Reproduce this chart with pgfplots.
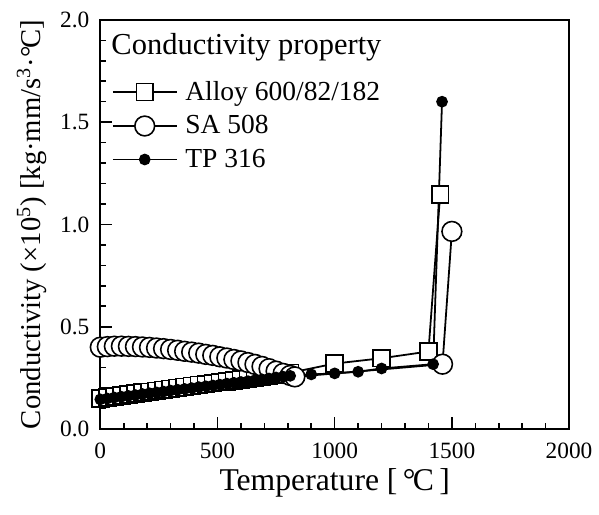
\documentclass[border=0pt]{standalone}
\usepackage{fontspec}
\setmainfont{Liberation Serif}
\usepackage{pgfplots}
\pgfplotsset{compat=1.18}
\newcommand{\degC}{\textdegree\kern-0.08em C}
\begin{document}
\begin{tikzpicture}
\begin{axis}[
  width=236bp, height=206bp, scale only axis,
  xmin=0, xmax=2000, ymin=0, ymax=2,
  xtick={0,500,1000,1500,2000},
  ytick={0,0.5,1,1.5,2},
  xticklabels={0,500,1000,1500,2000},
  yticklabels={0.0,0.5,1.0,1.5,2.0},
  minor x tick num=4, minor y tick num=4,
  tick align=inside, xtick pos=bottom, ytick pos=left,
  major tick length=6bp, minor tick length=3bp,
  every tick/.style={black, line width=0.8pt},
  axis line style={line width=1pt},
  tick label style={font=\fontsize{11.8}{13}\selectfont},
  xticklabel style={yshift=-3.5bp},
  yticklabel style={xshift=-2bp},
  xlabel={Temperature [\,\degC\,]},
  ylabel={Conductivity (\texttimes10\textsuperscript{5}) [kg\textperiodcentered mm/s\textsuperscript{3}\textperiodcentered\degC]},
  xlabel style={font=\fontsize{16}{18}\selectfont, yshift=2bp},
  ylabel style={font=\fontsize{14.5}{16}\selectfont},
  legend style={draw=none, fill=none, at={(axis description cs:0.02,0.866)}, anchor=north west,
    font=\fontsize{13.9}{15}\selectfont, row sep=2.2bp, inner sep=1bp},
  legend cell align=left,
  legend image code/.code={\draw[mark repeat=2,mark phase=2,#1] plot coordinates {(0bp,0bp) (16bp,0bp) (32bp,0bp)}; \path (34bp,0bp);},
]
\addplot[black, line width=0.9pt, mark=square*, mark size=4.25pt, mark options={fill=white, line width=0.8pt}] coordinates {
(0,0.150) (30,0.155) (60,0.159) (90,0.164) (120,0.168) (150,0.173) (180,0.178) (210,0.182)
(240,0.187) (270,0.192) (300,0.196) (330,0.201) (360,0.205) (390,0.210) (420,0.215) (450,0.219)
(480,0.224) (510,0.229) (540,0.233) (570,0.238) (600,0.242) (630,0.247) (660,0.252) (690,0.256)
(720,0.261) (750,0.265) (780,0.270) (810,0.275)
(1000,0.320) (1200,0.346) (1400,0.379) (1450,1.146)};
\addlegendentry{Alloy 600/82/182}
\addplot[black, line width=0.9pt, mark=*, mark size=5pt, mark options={fill=white, line width=0.8pt}] coordinates {
(0,0.400) (30,0.403) (60,0.405) (90,0.405) (120,0.404) (150,0.403) (180,0.401) (210,0.399)
(240,0.396) (270,0.393) (300,0.389) (330,0.385) (360,0.380) (390,0.376) (420,0.371) (450,0.365)
(480,0.360) (510,0.353) (540,0.347) (570,0.340) (600,0.333) (630,0.325) (660,0.316) (690,0.306)
(720,0.295) (750,0.283) (780,0.272) (810,0.262) (830,0.255)
(1460,0.317) (1500,0.966)};
\addlegendentry{SA 508}
\addplot[black, line width=0.9pt, mark=*, mark size=2.5pt, mark options={fill=black}] coordinates {
(0,0.145) (30,0.149) (60,0.154) (90,0.158) (120,0.162) (150,0.166) (180,0.171) (210,0.175)
(240,0.179) (270,0.183) (300,0.188) (330,0.192) (360,0.196) (390,0.200) (420,0.205) (450,0.209)
(480,0.213) (510,0.217) (540,0.222) (570,0.226) (600,0.230) (630,0.234) (660,0.239) (690,0.243)
(720,0.247) (750,0.252) (780,0.256) (810,0.260)
(900,0.267) (1000,0.272) (1100,0.280) (1200,0.296) (1420,0.317) (1458,1.600)};
\addlegendentry{TP 316}
\node[anchor=west, font=\fontsize{15.4}{17}\selectfont, inner sep=0pt] at (axis description cs:0.023,0.934) {Conductivity property};
\end{axis}
\path (current axis.south west) ++(-50.5bp,-43bp) coordinate (a);
\path (current axis.north east) ++(13bp,10bp) coordinate (b);
\path (a) rectangle (b);
\end{tikzpicture}
\end{document}
